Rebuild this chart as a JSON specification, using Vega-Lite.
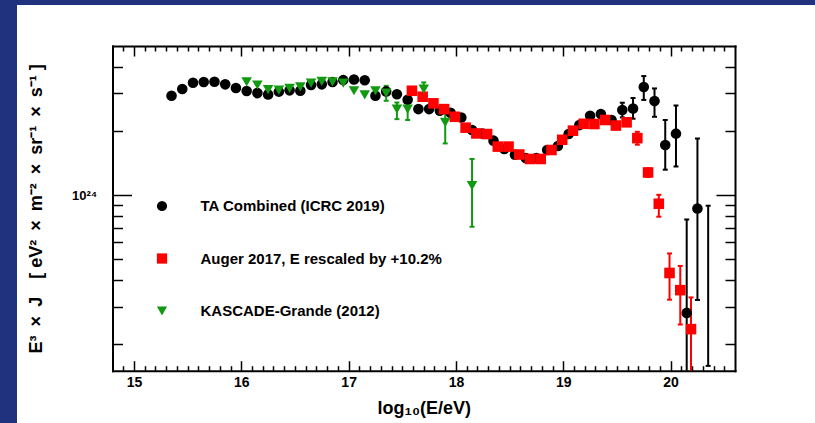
{
  "$schema": "https://vega.github.io/schema/vega-lite/v6.json",
  "autosize": {"type": "none"},
  "padding": {"left": 17, "top": 5, "right": 0, "bottom": 0},
  "width": 798,
  "height": 418,
  "background": "#20327e",
  "view": {"fill": "white", "stroke": null},
  "config": {
    "font": "Liberation Sans",
    "axis": {"domainColor": "black", "tickColor": "black", "labelColor": "black", "titleColor": "black", "grid": false, "labelFont": "Liberation Sans", "titleFont": "Liberation Sans", "labelFontWeight": "bold", "titleFontWeight": "bold", "domainWidth": 2, "tickWidth": 1.5, "labelFlush": false, "labelOverlap": false, "domainCap": "square"}
  },
  "data": {"values": [
    {"series": "TA", "logE": 15.35, "E3J": 2.924e24},
    {"series": "TA", "logE": 15.45, "E3J": 3.141e24},
    {"series": "TA", "logE": 15.55, "E3J": 3.365e24},
    {"series": "TA", "logE": 15.65, "E3J": 3.388e24},
    {"series": "TA", "logE": 15.75, "E3J": 3.396e24},
    {"series": "TA", "logE": 15.85, "E3J": 3.304e24},
    {"series": "TA", "logE": 15.95, "E3J": 3.177e24},
    {"series": "TA", "logE": 16.05, "E3J": 3.076e24},
    {"series": "TA", "logE": 16.15, "E3J": 3.006e24},
    {"series": "TA", "logE": 16.25, "E3J": 2.965e24},
    {"series": "TA", "logE": 16.35, "E3J": 3.055e24},
    {"series": "TA", "logE": 16.45, "E3J": 3.097e24},
    {"series": "TA", "logE": 16.55, "E3J": 3.083e24},
    {"series": "TA", "logE": 16.65, "E3J": 3.281e24},
    {"series": "TA", "logE": 16.75, "E3J": 3.304e24},
    {"series": "TA", "logE": 16.85, "E3J": 3.388e24},
    {"series": "TA", "logE": 16.95, "E3J": 3.459e24},
    {"series": "TA", "logE": 17.05, "E3J": 3.483e24},
    {"series": "TA", "logE": 17.15, "E3J": 3.451e24},
    {"series": "TA", "logE": 17.25, "E3J": 2.924e24},
    {"series": "TA", "logE": 17.35, "E3J": 3.062e24},
    {"series": "TA", "logE": 17.45, "E3J": 2.97e24},
    {"series": "TA", "logE": 17.55, "E3J": 2.799e24},
    {"series": "TA", "logE": 17.65, "E3J": 2.529e24},
    {"series": "TA", "logE": 17.75, "E3J": 2.529e24},
    {"series": "TA", "logE": 17.85, "E3J": 2.483e24},
    {"series": "TA", "logE": 17.95, "E3J": 2.432e24},
    {"series": "TA", "logE": 18.05, "E3J": 2.312e24},
    {"series": "TA", "logE": 18.15, "E3J": 2.018e24},
    {"series": "TA", "logE": 18.25, "E3J": 1.941e24},
    {"series": "TA", "logE": 18.35, "E3J": 1.799e24},
    {"series": "TA", "logE": 18.45, "E3J": 1.644e24},
    {"series": "TA", "logE": 18.55, "E3J": 1.545e24},
    {"series": "TA", "logE": 18.65, "E3J": 1.493e24},
    {"series": "TA", "logE": 18.75, "E3J": 1.493e24},
    {"series": "TA", "logE": 18.85, "E3J": 1.626e24},
    {"series": "TA", "logE": 18.95, "E3J": 1.698e24},
    {"series": "TA", "logE": 19.05, "E3J": 1.932e24},
    {"series": "TA", "logE": 19.15, "E3J": 2.128e24},
    {"series": "TA", "logE": 19.25, "E3J": 2.355e24},
    {"series": "TA", "logE": 19.35, "E3J": 2.399e24},
    {"series": "TA", "logE": 19.45, "E3J": 2.249e24},
    {"series": "TA", "logE": 19.55, "E3J": 2.506e24, "lo": 2.312e24, "hi": 2.71e24},
    {"series": "TA", "logE": 19.65, "E3J": 2.547e24, "lo": 2.28e24, "hi": 2.851e24},
    {"series": "TA", "logE": 19.75, "E3J": 3.214e24, "lo": 2.793e24, "hi": 3.614e24},
    {"series": "TA", "logE": 19.85, "E3J": 2.761e24, "lo": 2.328e24, "hi": 3.162e24},
    {"series": "TA", "logE": 19.95, "E3J": 1.718e24, "lo": 1.315e24, "hi": 2.249e24},
    {"series": "TA", "logE": 20.05, "E3J": 1.941e24, "lo": 1.361e24, "hi": 2.63e24},
    {"series": "TA", "logE": 20.15, "E3J": 0.28e24, "lo": 0.05e24, "hi": 0.768e24},
    {"series": "TA", "logE": 20.25, "E3J": 0.865e24, "lo": 0.322e24, "hi": 1.841e24},
    {"series": "TA", "logE": 20.35, "E3J": null, "lo": 0.158e24, "hi": 0.891e24},
    {"series": "Auger", "logE": 17.59, "E3J": 3.083e24},
    {"series": "Auger", "logE": 17.69, "E3J": 2.891e24},
    {"series": "Auger", "logE": 17.79, "E3J": 2.692e24},
    {"series": "Auger", "logE": 17.89, "E3J": 2.529e24},
    {"series": "Auger", "logE": 17.99, "E3J": 2.328e24},
    {"series": "Auger", "logE": 18.09, "E3J": 2.07e24},
    {"series": "Auger", "logE": 18.19, "E3J": 1.945e24},
    {"series": "Auger", "logE": 18.29, "E3J": 1.932e24},
    {"series": "Auger", "logE": 18.39, "E3J": 1.687e24},
    {"series": "Auger", "logE": 18.49, "E3J": 1.687e24},
    {"series": "Auger", "logE": 18.59, "E3J": 1.549e24},
    {"series": "Auger", "logE": 18.69, "E3J": 1.476e24},
    {"series": "Auger", "logE": 18.79, "E3J": 1.476e24},
    {"series": "Auger", "logE": 18.89, "E3J": 1.626e24},
    {"series": "Auger", "logE": 18.99, "E3J": 1.816e24},
    {"series": "Auger", "logE": 19.09, "E3J": 2.004e24},
    {"series": "Auger", "logE": 19.19, "E3J": 2.158e24},
    {"series": "Auger", "logE": 19.29, "E3J": 2.153e24},
    {"series": "Auger", "logE": 19.39, "E3J": 2.249e24},
    {"series": "Auger", "logE": 19.49, "E3J": 2.118e24},
    {"series": "Auger", "logE": 19.59, "E3J": 2.193e24},
    {"series": "Auger", "logE": 19.69, "E3J": 1.849e24, "lo": 1.722e24, "hi": 1.98e24},
    {"series": "Auger", "logE": 19.79, "E3J": 1.276e24, "lo": 1.216e24, "hi": 1.334e24},
    {"series": "Auger", "logE": 19.89, "E3J": 0.91e24, "lo": 0.791e24, "hi": 1.002e24},
    {"series": "Auger", "logE": 19.99, "E3J": 0.431e24, "lo": 0.323e24, "hi": 0.532e24},
    {"series": "Auger", "logE": 20.09, "E3J": 0.358e24, "lo": 0.247e24, "hi": 0.465e24},
    {"series": "Auger", "logE": 20.19, "E3J": 0.235e24, "lo": 0.05e24, "hi": 0.331e24},
    {"series": "KG", "logE": 16.05, "E3J": 3.396e24},
    {"series": "KG", "logE": 16.15, "E3J": 3.281e24},
    {"series": "KG", "logE": 16.25, "E3J": 3.119e24},
    {"series": "KG", "logE": 16.35, "E3J": 3.105e24},
    {"series": "KG", "logE": 16.45, "E3J": 3.162e24},
    {"series": "KG", "logE": 16.55, "E3J": 3.214e24},
    {"series": "KG", "logE": 16.65, "E3J": 3.35e24},
    {"series": "KG", "logE": 16.75, "E3J": 3.412e24},
    {"series": "KG", "logE": 16.85, "E3J": 3.396e24},
    {"series": "KG", "logE": 16.95, "E3J": 3.35e24},
    {"series": "KG", "logE": 17.05, "E3J": 3.083e24},
    {"series": "KG", "logE": 17.15, "E3J": 2.951e24},
    {"series": "KG", "logE": 17.25, "E3J": 3.083e24},
    {"series": "KG", "logE": 17.35, "E3J": 3.006e24, "lo": 2.767e24, "hi": 3.251e24},
    {"series": "KG", "logE": 17.45, "E3J": 2.529e24, "lo": 2.27e24, "hi": 2.716e24},
    {"series": "KG", "logE": 17.55, "E3J": 2.529e24, "lo": 2.249e24, "hi": 2.767e24},
    {"series": "KG", "logE": 17.7, "E3J": 3.141e24, "lo": 2.793e24, "hi": 3.373e24},
    {"series": "KG", "logE": 17.9, "E3J": 2.193e24, "lo": 1.746e24, "hi": 2.483e24},
    {"series": "KG", "logE": 18.15, "E3J": 1.107e24, "lo": 0.71e24, "hi": 1.476e24}
  ]},
  "resolve": {"axis": {"x": "independent", "y": "independent"}},
  "layer": [
    {
      "transform": [{"filter": "datum.series === 'TA' && isValid(datum.lo)"}],
      "mark": {"type": "rule", "color": "black", "strokeWidth": 2},
      "encoding": {
        "x": {"field": "logE", "type": "quantitative",
          "scale": {"domain": [14.8, 20.6], "range": [95.5, 718], "nice": false, "zero": false},
          "axis": {"orient": "bottom", "offset": -52.3, "values": [15, 16, 17, 18, 19, 20], "ticks": false, "domain": false, "labelPadding": 4.3, "labelFontSize": 14, "format": "d", "title": "log₁₀(E/eV)", "titleFontSize": 18, "titlePadding": 10}},
        "y": {"field": "lo", "type": "quantitative",
          "scale": {"type": "log", "domain": [1.5e23, 5e24], "range": [365.7, 41], "nice": false, "clamp": true},
          "axis": {"orient": "left", "offset": -95.5, "values": [1e24], "ticks": false, "domain": false, "labelExpr": "'10²⁴'", "labelPadding": 15.8, "labelFontSize": 13, "title": "E³\u2002×\u2002J\u2003[ eV²\u2002×\u2002m⁻²\u2002×\u2002sr⁻¹\u2002×\u2002s⁻¹ ]", "titleFontSize": 18, "titlePadding": 26}},
        "y2": {"field": "hi"}
      }
    },
    {
      "transform": [{"filter": "datum.series === 'TA' && isValid(datum.lo)"}, {"fold": ["lo", "hi"], "as": ["end", "val"]}, {"filter": "datum.val > 1.5e23 && datum.val < 5e24"}],
      "mark": {"type": "point", "shape": "M-1,0L1,0", "size": 25, "filled": false, "stroke": "black", "strokeWidth": 2, "opacity": 1},
      "encoding": {
        "x": {"field": "logE", "type": "quantitative", "axis": {"orient": "bottom", "offset": -52.3, "values": [15, 16, 17, 18, 19, 20], "tickSize": -10, "labels": false, "domain": true, "title": null}},
        "y": {"field": "val", "type": "quantitative", "axis": {"orient": "left", "offset": -95.5, "values": [1e24], "tickSize": -19, "labels": false, "domain": true, "title": null}}
      }
    },
    {
      "transform": [{"filter": "datum.series === 'Auger' && isValid(datum.lo)"}],
      "mark": {"type": "rule", "color": "#ff0000", "strokeWidth": 2},
      "encoding": {
        "x": {"field": "logE", "type": "quantitative", "axis": {"orient": "bottom", "offset": -52.3, "values": [14.9,15.1,15.2,15.3,15.4,15.5,15.6,15.7,15.8,15.9,16.1,16.2,16.3,16.4,16.5,16.6,16.7,16.8,16.9,17.1,17.2,17.3,17.4,17.5,17.6,17.7,17.8,17.9,18.1,18.2,18.3,18.4,18.5,18.6,18.7,18.8,18.9,19.1,19.2,19.3,19.4,19.5,19.6,19.7,19.8,19.9,20.1,20.2,20.3,20.4,20.5], "tickSize": -5, "labels": false, "domain": false, "title": null}},
        "y": {"field": "lo", "type": "quantitative", "axis": {"orient": "left", "offset": -95.5, "values": [2e23,3e23,4e23,5e23,6e23,7e23,8e23,9e23,2e24,3e24,4e24], "tickSize": -10, "labels": false, "domain": false, "title": null}},
        "y2": {"field": "hi"}
      }
    },
    {
      "transform": [{"filter": "datum.series === 'Auger' && isValid(datum.lo)"}, {"fold": ["lo", "hi"], "as": ["end", "val"]}, {"filter": "datum.val > 1.5e23 && datum.val < 5e24"}],
      "mark": {"type": "point", "shape": "M-1,0L1,0", "size": 25, "filled": false, "stroke": "#ff0000", "strokeWidth": 2, "opacity": 1},
      "encoding": {
        "x": {"field": "logE", "type": "quantitative", "axis": {"orient": "top", "offset": -41, "values": [15, 16, 17, 18, 19, 20], "tickSize": -10, "labels": false, "domain": true, "title": null}},
        "y": {"field": "val", "type": "quantitative", "axis": {"orient": "right", "offset": -80, "values": [1e24], "tickSize": -19, "labels": false, "domain": true, "title": null}}
      }
    },
    {
      "transform": [{"filter": "datum.series === 'KG' && isValid(datum.lo)"}],
      "mark": {"type": "rule", "color": "#119911", "strokeWidth": 2},
      "encoding": {
        "x": {"field": "logE", "type": "quantitative", "axis": {"orient": "top", "offset": -41, "values": [14.9,15.1,15.2,15.3,15.4,15.5,15.6,15.7,15.8,15.9,16.1,16.2,16.3,16.4,16.5,16.6,16.7,16.8,16.9,17.1,17.2,17.3,17.4,17.5,17.6,17.7,17.8,17.9,18.1,18.2,18.3,18.4,18.5,18.6,18.7,18.8,18.9,19.1,19.2,19.3,19.4,19.5,19.6,19.7,19.8,19.9,20.1,20.2,20.3,20.4,20.5], "tickSize": -5, "labels": false, "domain": false, "title": null}},
        "y": {"field": "lo", "type": "quantitative", "axis": {"orient": "right", "offset": -80, "values": [2e23,3e23,4e23,5e23,6e23,7e23,8e23,9e23,2e24,3e24,4e24], "tickSize": -10, "labels": false, "domain": false, "title": null}},
        "y2": {"field": "hi"}
      }
    },
    {
      "transform": [{"filter": "datum.series === 'KG' && isValid(datum.lo)"}, {"fold": ["lo", "hi"], "as": ["end", "val"]}, {"filter": "datum.val > 1.5e23 && datum.val < 5e24"}],
      "mark": {"type": "point", "shape": "M-1,0L1,0", "size": 25, "filled": false, "stroke": "#119911", "strokeWidth": 2, "opacity": 1},
      "encoding": {
        "x": {"field": "logE", "type": "quantitative", "axis": null},
        "y": {"field": "val", "type": "quantitative", "axis": null}
      }
    },
    {
      "transform": [{"filter": "isValid(datum.E3J)"}],
      "mark": {"type": "point", "filled": true, "opacity": 1, "size": 112},
      "encoding": {
        "x": {"field": "logE", "type": "quantitative", "axis": null},
        "y": {"field": "E3J", "type": "quantitative", "axis": null},
        "color": {"field": "series", "type": "nominal",
          "scale": {"domain": ["TA", "Auger", "KG"], "range": ["#000000", "#ff0000", "#119911"]},
          "legend": {"orient": "none", "legendX": 137.5, "legendY": 193.5, "title": null, "padding": 0, "rowPadding": 36.5, "labelOffset": 31, "symbolSize": 105, "symbolStrokeWidth": 0, "labelFont": "Liberation Sans", "labelFontSize": 15, "labelFontWeight": "bold", "labelColor": "black", "labelLimit": 500,
            "labelExpr": "datum.value === 'TA' ? 'TA Combined (ICRC 2019)' : datum.value === 'Auger' ? 'Auger 2017, E rescaled by +10.2%' : 'KASCADE-Grande (2012)'"}},
        "shape": {"field": "series", "type": "nominal",
          "scale": {"domain": ["TA", "Auger", "KG"], "range": ["circle", "square", "triangle-down"]},
          "legend": {"orient": "none", "legendX": 137.5, "legendY": 193.5, "title": null, "padding": 0, "rowPadding": 36.5, "labelOffset": 31, "symbolSize": 105, "symbolStrokeWidth": 0, "labelFont": "Liberation Sans", "labelFontSize": 15, "labelFontWeight": "bold", "labelColor": "black", "labelLimit": 500,
            "labelExpr": "datum.value === 'TA' ? 'TA Combined (ICRC 2019)' : datum.value === 'Auger' ? 'Auger 2017, E rescaled by +10.2%' : 'KASCADE-Grande (2012)'"}}
      }
    }
  ]
}
